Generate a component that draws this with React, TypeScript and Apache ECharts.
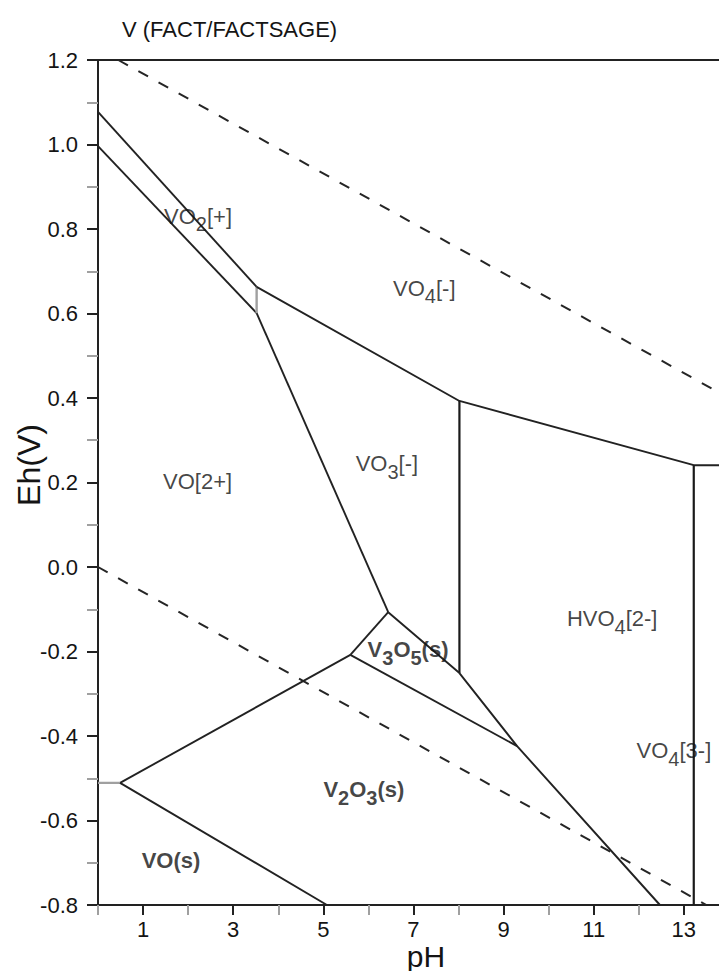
import React, { useEffect, useRef } from "react";
import * as echarts from "echarts";

// Eh–pH (Pourbaix) diagram for vanadium, FACT/FACTSAGE data.
// Each boundary is a list of [pH, Eh] vertices.
const edgeVO2pVO4m: number[][] = [[0, 1.077], [3.52, 0.663]];
const edgeVO2pVO2p: number[][] = [[0, 0.996], [3.52, 0.601]];
const edgeStepAt352: number[][] = [[3.52, 0.663], [3.52, 0.601]];
const edgeVO4mLower: number[][] = [[3.52, 0.663], [8.02, 0.393], [13.22, 0.241], [14, 0.241]];
const edgeVO3mHVO4: number[][] = [[8.02, 0.393], [8.02, -0.251]];
const edgeHVO4VO4: number[][] = [[13.22, 0.241], [13.22, -0.8]];
const edgeVO2pVO3m: number[][] = [[3.52, 0.601], [6.44, -0.107]];
const edgeV3O5Left: number[][] = [[6.44, -0.107], [5.6, -0.208]];
const edgeV3O5Right: number[][] = [[6.44, -0.107], [8.02, -0.251], [9.3, -0.424], [12.47, -0.8]];
const edgeV3O5V2O3: number[][] = [[5.6, -0.208], [9.3, -0.424]];
const edgeVO2pV2O3: number[][] = [[0.49, -0.511], [5.6, -0.208]];
const edgeStepAtLeft: number[][] = [[0, -0.511], [0.49, -0.511]];
const edgeVOsV2O3: number[][] = [[0.49, -0.511], [5.08, -0.8]];

// Water stability limits (dashed)
const waterUpper: number[][] = [[0.45, 1.2], [14, 0.4]];
const waterLower: number[][] = [[0, 0], [13.5, -0.8]];

// Region labels: rich text and position in [pH, Eh]
const regionText: string[] = [
  "{n|VO}{s|2}{n|[+]}",
  "{n|VO}{s|4}{n|[-]}",
  "{n|VO[2+]}",
  "{n|VO}{s|3}{n|[-]}",
  "{n|HVO}{s|4}{n|[2-]}",
  "{nb|V}{sb|3}{nb|O}{sb|5}{nb|(s)}",
  "{nb|V}{sb|2}{nb|O}{sb|3}{nb|(s)}",
  "{nb|VO(s)}",
  "{n|VO}{s|4}{n|[3-]}",
];
const regionPH: number[] = [2.22, 7.24, 2.21, 6.41, 11.41, 6.88, 5.9, 1.62, 12.78];
const regionEh: number[] = [0.822, 0.652, 0.194, 0.236, -0.131, -0.204, -0.536, -0.703, -0.443];

// pH window shown and its tick positions
const PH_MIN = 0;
const PH_MAX = 13.78;
const xTicksOdd: number[] = [1, 3, 5, 7, 9, 11, 13];
const xTicksEven: number[] = [0, 2, 4, 6, 8, 10, 12];

const FONT = "'Liberation Sans', Arial, Helvetica, sans-serif";
const INK = "#141414";
const LINE = "#222222";
const GREY = "#a0a0a0";

export default function App() {
  const ref = useRef<HTMLDivElement>(null);

  useEffect(() => {
    if (!ref.current) return;
    const chart = echarts.init(ref.current, null, { renderer: "svg" });

    const solid = (data: number[][], color = LINE, width = 1.9) => ({
      type: "line",
      data,
      showSymbol: false,
      silent: true,
      lineStyle: { color, width },
      xAxisIndex: 0,
      yAxisIndex: 0,
    });
    const dashed = (data: number[][]) => ({
      type: "line",
      data,
      showSymbol: false,
      silent: true,
      lineStyle: { color: "#252525", width: 2, type: [11, 12] },
      xAxisIndex: 0,
      yAxisIndex: 0,
    });

    const rich = {
      n: { fontSize: 22, fontFamily: FONT, color: INK, padding: [0, 0, 7, 0], verticalAlign: "bottom" },
      s: { fontSize: 20, fontFamily: FONT, color: INK, verticalAlign: "bottom" },
      nb: { fontSize: 22, fontFamily: FONT, fontWeight: "bold", color: INK, padding: [0, 0, 7, 0], verticalAlign: "bottom" },
      sb: { fontSize: 20, fontFamily: FONT, fontWeight: "bold", color: INK, verticalAlign: "bottom" },
    };

    const labelData = regionText.map((t, i) => ({
      value: [regionPH[i], regionEh[i]],
      label: { formatter: t },
    }));

    const baseX = {
      type: "value",
      min: PH_MIN,
      max: PH_MAX,
      splitLine: { show: false },
    };

    chart.setOption({
      animation: false,
      grid: { left: 98, top: 60, right: 0, bottom: 66 },
      xAxis: [
        {
          ...baseX,
          position: "bottom",
          axisLine: { show: true, onZero: false, lineStyle: { color: "#222", width: 2 } },
          axisTick: { show: true, length: 10, customValues: xTicksEven, lineStyle: { color: GREY, width: 2 } },
          axisLabel: { show: false },
        },
        {
          ...baseX,
          position: "bottom",
          axisLine: { show: false, onZero: false },
          axisTick: { show: true, length: 10, customValues: xTicksOdd, lineStyle: { color: "#222", width: 2 } },
          axisLabel: {
            show: true,
            customValues: xTicksOdd,
            margin: 13,
            fontSize: 22,
            fontFamily: FONT,
            color: INK,
          },
        },
        {
          ...baseX,
          position: "top",
          axisLine: { show: true, onZero: false, lineStyle: { color: "#222", width: 2 } },
          axisTick: { show: false },
          axisLabel: { show: false },
        },
      ],
      yAxis: {
        type: "value",
        min: -0.8,
        max: 1.2,
        interval: 0.2,
        axisLine: { show: true, onZero: false, lineStyle: { color: "#222", width: 2 } },
        axisTick: { show: true, length: 11, lineStyle: { color: "#222", width: 2 } },
        minorTick: { show: true, splitNumber: 2, length: 11, lineStyle: { color: GREY, width: 2 } },
        axisLabel: {
          margin: 20,
          fontSize: 22,
          fontFamily: FONT,
          color: INK,
          formatter: (v: number) => (Math.abs(v) < 1e-9 ? "0.0" : v.toFixed(1)),
        },
        splitLine: { show: false },
      },
      graphic: [
        {
          type: "text",
          x: 122,
          y: 29,
          style: { text: "V (FACT/FACTSAGE)", fontSize: 22, fontFamily: FONT, fill: INK, align: "left", verticalAlign: "middle" },
        },
        {
          type: "text",
          x: 426,
          y: 956,
          style: { text: "pH", fontSize: 30, fontFamily: FONT, fill: INK, align: "center", verticalAlign: "middle" },
        },
        {
          type: "text",
          x: 29,
          y: 465,
          rotation: Math.PI / 2,
          style: { text: "Eh(V)", fontSize: 32, fontFamily: FONT, fill: INK, align: "center", verticalAlign: "middle" },
        },
      ],
      series: [
        dashed(waterUpper),
        dashed(waterLower),
        solid(edgeVO2pVO4m),
        solid(edgeVO2pVO2p),
        solid(edgeStepAt352, GREY, 2.4),
        solid(edgeVO4mLower),
        solid(edgeVO3mHVO4, "#1a1a1a", 2.2),
        solid(edgeHVO4VO4, "#1a1a1a", 2.2),
        solid(edgeVO2pVO3m),
        solid(edgeV3O5Left),
        solid(edgeV3O5Right),
        solid(edgeV3O5V2O3),
        solid(edgeVO2pV2O3),
        solid(edgeStepAtLeft, GREY, 2.4),
        solid(edgeVOsV2O3),
        {
          type: "scatter",
          data: labelData,
          symbolSize: 1,
          silent: true,
          itemStyle: { color: "rgba(0,0,0,0)" },
          label: { show: true, position: "inside", rich },
          xAxisIndex: 0,
          yAxisIndex: 0,
          z: 5,
        },
      ],
    });

    return () => chart.dispose();
  }, []);

  return <div ref={ref} style={{ width: 719, height: 971, position: "absolute", left: 0, top: 0, background: "#fff" }} />;
}
